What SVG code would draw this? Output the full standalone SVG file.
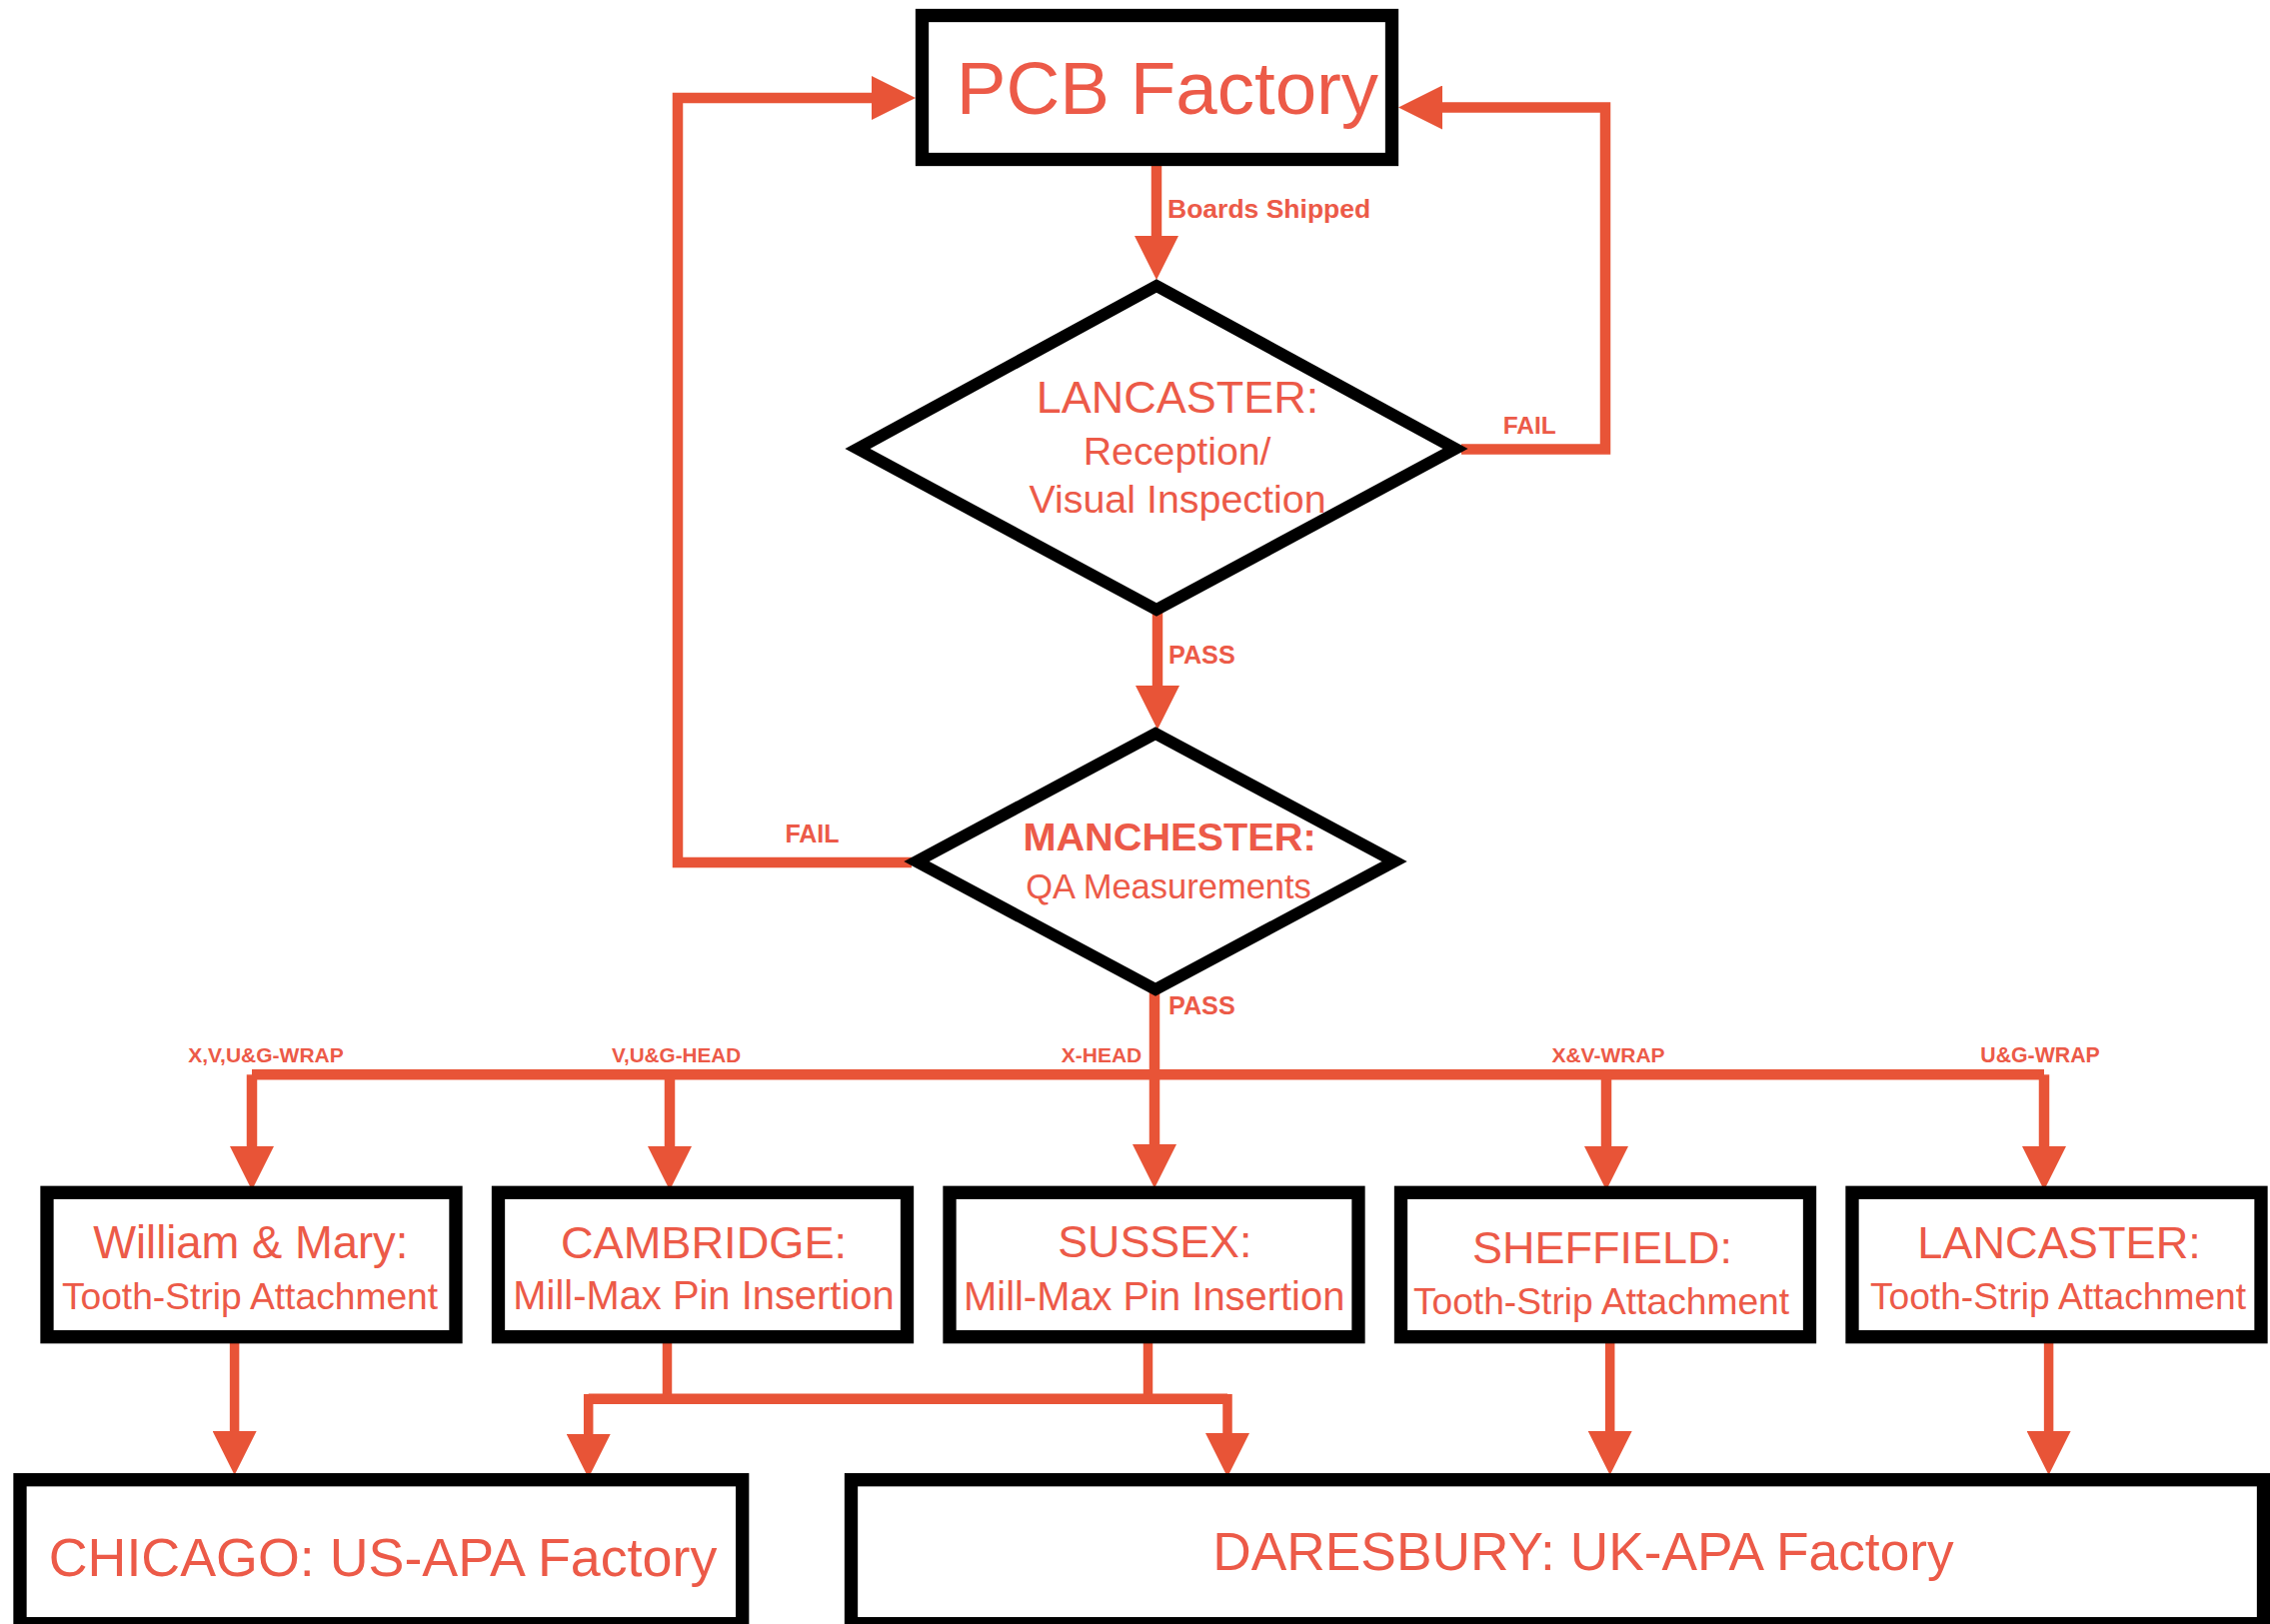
<svg xmlns="http://www.w3.org/2000/svg" width="2271" height="1625" viewBox="0 0 2271 1625">
<style>
.box{fill:#fff;stroke:#000;stroke-width:13.3}
.dia{fill:#fff;stroke:#000;stroke-width:12;stroke-linejoin:miter;stroke-miterlimit:10}
.con{fill:none;stroke:#E85437;stroke-width:10.5;stroke-linecap:butt;stroke-linejoin:miter}
.thin{stroke-width:9.5}
.t{fill:#EC5A48;font-family:"Liberation Sans",Arial,Helvetica,sans-serif}
.b{font-weight:bold}
.m{text-anchor:middle}
</style>
<defs>
<marker id="ah" viewBox="0 0 44 44" refX="0" refY="22" markerWidth="44" markerHeight="44" markerUnits="userSpaceOnUse" orient="auto">
<path d="M0,0 L44,22 L0,44 Z" fill="#E85437"/>
</marker>
</defs>
<rect width="2271" height="1625" fill="#fff"/>

<g id="connectors">
<path class="con" d="M1157,166 V236" marker-end="url(#ah)"/>
<path class="con" d="M1462,449.5 H1606 V107.5 H1443" marker-end="url(#ah)"/>
<path class="con" d="M1158,612 V686" marker-end="url(#ah)"/>
<path class="con" d="M912,863 H678 V98 H872" marker-end="url(#ah)"/>
<path class="con" d="M1155,992 V1145" marker-end="url(#ah)"/>
<path class="con" d="M252,1075.3 V1147" marker-end="url(#ah)"/>
<path class="con" d="M252,1075.3 H2045"/>
<path class="con" d="M670,1075 V1147" marker-end="url(#ah)"/>
<path class="con" d="M1607,1075 V1147" marker-end="url(#ah)"/>
<path class="con" d="M2045,1075.3 V1147" marker-end="url(#ah)"/>
<path class="con thin" d="M234.6,1344 V1432" marker-end="url(#ah)"/>
<path class="con thin" d="M667.5,1344 V1399.7"/>
<path class="con thin" d="M1148.5,1344 V1399.7"/>
<path class="con" d="M588.7,1399.7 H1228"/>
<path class="con thin" d="M588.7,1395 V1435" marker-end="url(#ah)"/>
<path class="con thin" d="M1228,1395 V1434" marker-end="url(#ah)"/>
<path class="con thin" d="M1610.7,1344 V1432" marker-end="url(#ah)"/>
<path class="con thin" d="M2049.6,1344 V1432" marker-end="url(#ah)"/>
<text class="t b" x="1168" y="218" font-size="26.5">Boards Shipped</text>
<text class="t b" x="1503.7" y="434" font-size="24.5">FAIL</text>
<text class="t b" x="1169" y="664" font-size="25.2">PASS</text>
<text class="t b" x="785.4" y="843.3" font-size="25">FAIL</text>
<text class="t b" x="1169" y="1015" font-size="25.2">PASS</text>
<text class="t b m" x="266" y="1063.3" font-size="21">X,V,U&amp;G-WRAP</text>
<text class="t b m" x="676.6" y="1063.3" font-size="20.7">V,U&amp;G-HEAD</text>
<text class="t b m" x="1102" y="1063.3" font-size="21">X-HEAD</text>
<text class="t b m" x="1609" y="1063.3" font-size="21">X&amp;V-WRAP</text>
<text class="t b m" x="2041" y="1063.3" font-size="21.3">U&amp;G-WRAP</text>
</g>

<g id="pcb-factory">
<rect class="box" x="922.5" y="15.5" width="470" height="144"/>
<text class="t m" x="1168" y="114" font-size="74.5">PCB Factory</text>
</g>

<g id="lancaster-reception">
<polygon class="dia" points="1157,286 1456,449 1157,610 858,449"/>
<text class="t m" x="1178" y="412.7" font-size="45">LANCASTER:</text>
<text class="t m" x="1177.6" y="465" font-size="39.3">Reception/</text>
<text class="t m" x="1178" y="513.3" font-size="39.4">Visual Inspection</text>
</g>

<g id="manchester-qa">
<polygon class="dia" points="1156,734 1395,862 1156,990 917,862"/>
<text class="t b m" x="1170" y="850.7" font-size="39.7">MANCHESTER:</text>
<text class="t m" x="1169" y="899.3" font-size="34.5">QA Measurements</text>
</g>

<g id="william-mary">
<rect class="box" x="47" y="1193.3" width="409" height="144.4"/>
<text class="t m" x="250.8" y="1259.3" font-size="45.4">William &amp; Mary:</text>
<text class="t m" x="250" y="1310" font-size="37.2">Tooth-Strip Attachment</text>
</g>

<g id="cambridge">
<rect class="box" x="498.5" y="1193.3" width="409" height="144.4"/>
<text class="t m" x="704" y="1258.7" font-size="45.2">CAMBRIDGE:</text>
<text class="t m" x="704" y="1310" font-size="39.9">Mill-Max Pin Insertion</text>
</g>

<g id="sussex">
<rect class="box" x="950" y="1193.3" width="409" height="144.4"/>
<text class="t m" x="1155.3" y="1258.3" font-size="44.8">SUSSEX:</text>
<text class="t m" x="1154.7" y="1310.7" font-size="39.9">Mill-Max Pin Insertion</text>
</g>

<g id="sheffield">
<rect class="box" x="1401.5" y="1193.3" width="409" height="144.4"/>
<text class="t m" x="1603" y="1264.3" font-size="45">SHEFFIELD:</text>
<text class="t m" x="1602" y="1315" font-size="37.2">Tooth-Strip Attachment</text>
</g>

<g id="lancaster-tooth">
<rect class="box" x="1853" y="1193.3" width="409" height="144.4"/>
<text class="t m" x="2060" y="1259.3" font-size="45.2">LANCASTER:</text>
<text class="t m" x="2059" y="1310" font-size="37.2">Tooth-Strip Attachment</text>
</g>

<g id="chicago">
<rect class="box" x="20" y="1480.7" width="722.7" height="144"/>
<text class="t m" x="383" y="1577" font-size="53.8">CHICAGO: US-APA Factory</text>
</g>

<g id="daresbury">
<rect class="box" x="851.5" y="1480.7" width="1413" height="144"/>
<text class="t m" x="1584" y="1570.7" font-size="53.3">DARESBURY: UK-APA Factory</text>
</g>
</svg>
